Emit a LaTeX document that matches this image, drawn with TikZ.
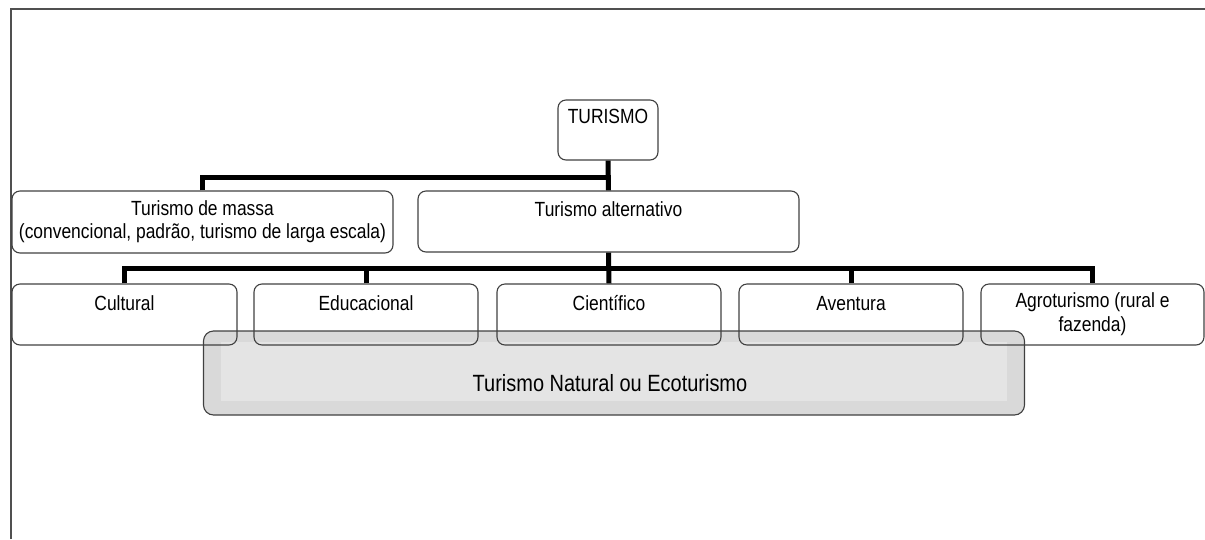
\documentclass[tikz,border=0pt]{standalone}
\usepackage{fontspec}
\setmainfont{Liberation Sans}[FakeStretch=0.85]
\definecolor{boxgray}{HTML}{404040}
\definecolor{framegray}{HTML}{505050}
\definecolor{outergray}{HTML}{D9D9D9}
\definecolor{innergray}{HTML}{E4E4E4}
\begin{document}
\begin{tikzpicture}[x=1pt,y=-1pt,
  box/.style={draw=boxgray, line width=1.1pt, rounded corners=8pt, inner sep=0pt},
  ecobox/.style={draw=boxgray, fill=outergray, line width=1.1pt, rounded corners=10pt, inner sep=0pt},
  conn/.style={line width=5pt, line join=miter, draw=black},
  lbl/.style={font=\fontsize{20.5}{24}\selectfont, anchor=base, align=center, inner sep=0pt, text=black},
  framestyle/.style={draw=framegray, line width=1.5pt}]
\useasboundingbox (0,0) rectangle (1205,539);
\draw[framestyle] (11,539) -- (11,9) -- (1205,9);

% grey overlay box (drawn first, row boxes drawn unfilled on top)
\node[ecobox, minimum width=821pt, minimum height=84pt] (eco) at (614,373) {};
\fill[innergray] (221,342) rectangle (1007,401);
\node[lbl, font=\fontsize{23.5}{27}\selectfont] (ecoT) at (610,391) {Turismo Natural ou Ecoturismo};

% boxes
\node[box, minimum width=100pt, minimum height=60pt] (tur) at (608,130) {};
\node[box, minimum width=381pt, minimum height=62pt] (massa) at (202.5,222) {};
\node[box, minimum width=381pt, minimum height=61pt] (alt) at (608.5,221.5) {};
\node[box, minimum width=225pt, minimum height=61pt] (c1) at (124.5,314.5) {};
\node[box, minimum width=224pt, minimum height=61pt] (c2) at (366,314.5) {};
\node[box, minimum width=224pt, minimum height=61pt] (c3) at (609,314.5) {};
\node[box, minimum width=224pt, minimum height=61pt] (c4) at (851,314.5) {};
\node[box, minimum width=223pt, minimum height=61pt] (c5) at (1092.5,314.5) {};

% labels
\node[lbl] (turT) at (608,123) {TURISMO};
\node[lbl] (massaT1) at (202.5,215) {Turismo de massa};
\node[lbl] (massaT2) at (202.5,238) {(convencional, padrão, turismo de larga escala)};
\node[lbl] (altT) at (608.5,216) {Turismo alternativo};
\node[lbl] (c1T) at (124.5,310) {Cultural};
\node[lbl] (c2T) at (366,310) {Educacional};
\node[lbl] (c3T) at (609,310) {Científico};
\node[lbl] (c4T) at (851,310) {Aventura};
\node[lbl] (c5T1) at (1092.5,307) {Agroturismo (rural e};
\node[lbl] (c5T2) at (1092.5,331) {fazenda)};

% connectors
\coordinate (bus1) at (0,177);
\coordinate (bus2) at (0,268);
\draw[conn] (massa.north) -- (massa.north |- bus1) -- (tur.south |- bus1);
\draw[conn] (tur.south) -- (alt.north);
\draw[conn] (c1.north) -- (c1.north |- bus2) -- (c5.north |- bus2) -- (c5.north);
\draw[conn] (alt.south) -- (c3.north);
\draw[conn] (c2.north) -- (c2.north |- bus2);
\draw[conn] (c4.north) -- (c4.north |- bus2);
\end{tikzpicture}
\end{document}
